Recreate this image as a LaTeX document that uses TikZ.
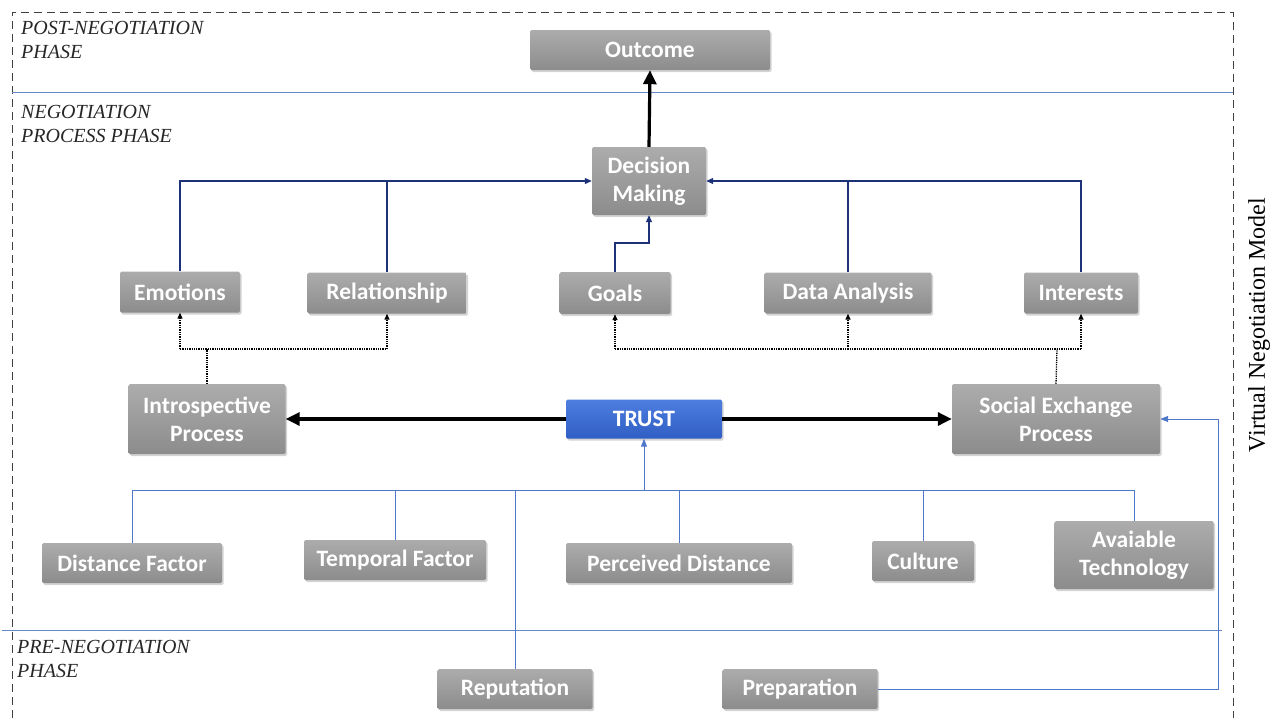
\documentclass[tikz,border=0pt]{standalone}
\usepackage{fontspec}
\setmainfont{Liberation Serif}
\newfontfamily\boxfont{Carlito}
\usetikzlibrary{arrows.meta,shadows,calc}
\definecolor{gtop}{RGB}{172,172,172}
\definecolor{gbot}{RGB}{140,140,140}
\definecolor{ttop}{RGB}{78,126,224}
\definecolor{tbot}{RGB}{48,94,196}
\definecolor{navy}{RGB}{30,50,120}
\definecolor{lblue}{RGB}{80,120,200}
\definecolor{phaseblue}{RGB}{100,135,200}
\tikzset{
  gbox/.style={rectangle, rounded corners=1.5pt, top color=gtop, bottom color=gbot, draw=none,
    text=white, font=\boxfont\bfseries\fontsize{23.5}{28}\selectfont, align=center, inner sep=0pt,
    drop shadow={opacity=0.35, shadow xshift=1.5pt, shadow yshift=-2pt}},
  tbox/.style={gbox, top color=ttop, bottom color=tbot},
  navyline/.style={draw=navy, line width=1.1pt},
  navyarrow/.style={navyline, -{Triangle[length=7pt,width=6pt]}},
  blueline/.style={draw=lblue, line width=1pt},
  bluearrow/.style={blueline, -{Triangle[length=8pt,width=6pt]}},
  dotline/.style={draw=black, line width=1.3pt, densely dotted},
  dotarrow/.style={dotline, -{Triangle[length=6pt,width=5pt]}},
  thick arrow/.style={draw=black, line width=3.2pt, -{Triangle[length=14pt,width=13pt]}},
  phaselabel/.style={font=\itshape\fontsize{20}{24.5}\selectfont, align=left, anchor=north west, inner sep=0pt, text=black!85},
}
\begin{document}
\begin{tikzpicture}[x=1pt,y=-1pt]
\useasboundingbox (0,0) rectangle (1271,718);
% outer dashed frame
\draw[black!75, line width=0.9pt, dash pattern=on 8pt off 5pt] (12,718) -- (12,12) -- (1233,12) -- (1233,718);
% phase lines
\draw[phaseblue, line width=1pt] (12,92) -- (1233,92);
\draw[phaseblue, line width=1pt] (2,630) -- (1222,630);
% phase labels
\node[phaselabel] (lpost) at (21,21) {POST-NEGOTIATION\\PHASE};
\node[phaselabel] (lneg) at (21,105) {NEGOTIATION\\PROCESS PHASE};
\node[phaselabel] (lpre) at (17,640) {PRE-NEGOTIATION\\PHASE};
\node[rotate=90, font=\fontsize{24}{26}\selectfont] (vnm) at (1259,325) {Virtual Negotiation Model};

% boxes
\node[gbox, minimum width=240pt, minimum height=40pt] (out) at (650,50) {Outcome};
\node[gbox, minimum width=114pt, minimum height=68pt] (dec) at (649,181) {Decision\\Making};
\node[gbox, minimum width=120pt, minimum height=41pt] (emo) at (180,292) {Emotions};
\node[gbox, minimum width=159pt, minimum height=41pt] (rel) at (387,293) {Relationship};
\node[gbox, minimum width=111pt, minimum height=42pt] (goal) at (615,293) {Goals};
\node[gbox, minimum width=167pt, minimum height=41pt] (data) at (848,293) {Data Analysis};
\node[gbox, minimum width=114pt, minimum height=41pt] (int) at (1081,293) {Interests};
\node[gbox, minimum width=157pt, minimum height=70pt] (intro) at (207,419) {Introspective\\Process};
\node[tbox, minimum width=156pt, minimum height=39pt] (trust) at (644,419) {TRUST};
\node[gbox, minimum width=208pt, minimum height=70pt] (soc) at (1056,419) {Social Exchange\\Process};
\node[gbox, minimum width=180pt, minimum height=40pt] (dist) at (132,563) {Distance Factor};
\node[gbox, minimum width=182pt, minimum height=40pt] (temp) at (395,560) {Temporal Factor};
\node[gbox, minimum width=226pt, minimum height=40pt] (perc) at (679,563) {Perceived Distance};
\node[gbox, minimum width=102pt, minimum height=40pt] (cult) at (923,561) {Culture};
\node[gbox, minimum width=159pt, minimum height=68pt] (tech) at (1134,555) {Avaiable\\Technology};
\node[gbox, minimum width=155pt, minimum height=40pt] (rep) at (515,689) {Reputation};
\node[gbox, minimum width=155pt, minimum height=40pt] (prep) at (800,689) {Preparation};

% decision -> outcome
\draw[thick arrow] (dec.north) -- (out.south);
% upper navy connectors
\draw[navyarrow] (emo.north) |- (dec.west);
\draw[navyline] (rel.north) -- (rel.north |- dec.west);
\draw[navyarrow] (int.north) |- (dec.east);
\draw[navyline] (data.north) -- (data.north |- dec.east);
\coordinate (gk) at (649,243);
\draw[navyarrow] (goal.north) |- (gk) -- (dec.south);

% dotted connectors
\coordinate (ib) at (207,349);
\draw[dotline] (intro.north) -- (ib);
\draw[dotline] (emo.south |- ib) -- (rel.south |- ib);
\draw[dotarrow] (emo.south |- ib) -- (emo.south);
\draw[dotarrow] (rel.south |- ib) -- (rel.south);
\coordinate (sb) at (1057,349);
\draw[dotline] (soc.north) -- (sb);
\draw[dotline] (goal.south |- sb) -- (int.south |- sb);
\draw[dotarrow] (goal.south |- sb) -- (goal.south);
\draw[dotarrow] (data.south |- sb) -- (data.south);
\draw[dotarrow] (int.south |- sb) -- (int.south);

% trust arrows
\draw[thick arrow] (trust.west) -- (intro.east);
\draw[thick arrow] (trust.east) -- (soc.west);

% lower tree
\coordinate (bus) at (0,490);
\draw[blueline] (dist.north) |- (tech.north |- bus) -- (tech.north);
\draw[blueline] (temp.north) -- (temp.north |- bus);
\draw[blueline] (perc.north) -- (perc.north |- bus);
\draw[blueline] (cult.north) -- (cult.north |- bus);
\draw[blueline] (rep.north) -- (rep.north |- bus);
\draw[bluearrow] (trust.south |- bus) -- (trust.south);
% preparation -> social exchange
\coordinate (pc) at (1218,689);
\draw[bluearrow] (prep.east) -- (pc) |- (soc.east);
\end{tikzpicture}
\end{document}
